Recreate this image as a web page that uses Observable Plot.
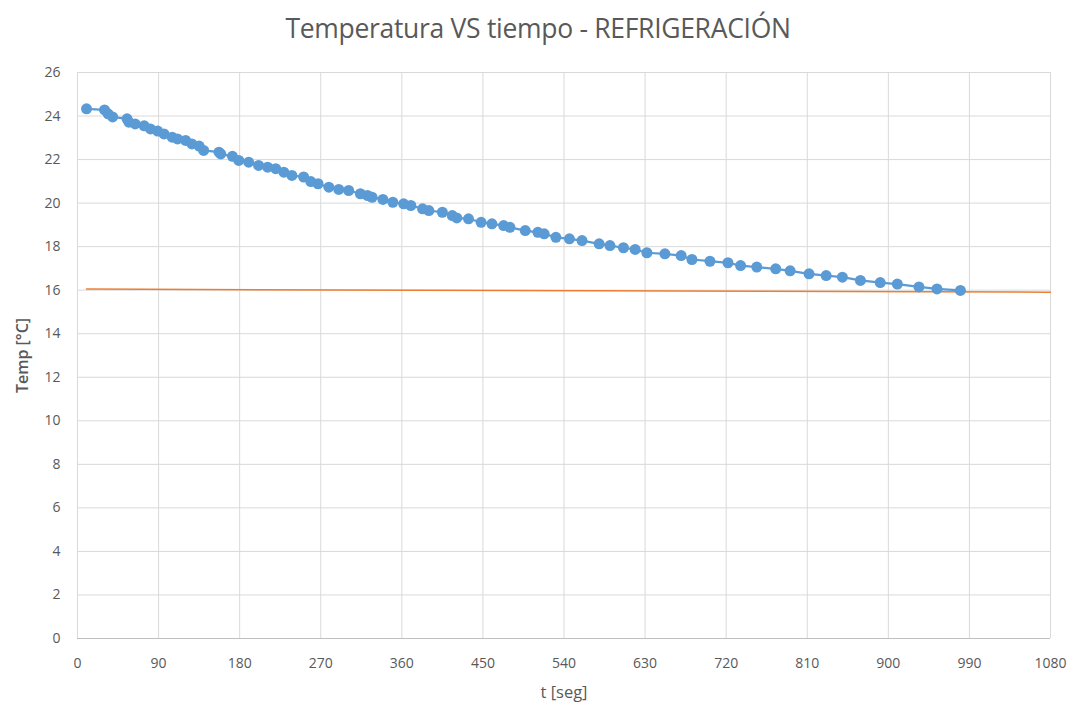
<!DOCTYPE html>
<html>
<head>
<meta charset="utf-8">
<script src="https://cdn.jsdelivr.net/npm/d3@7"></script>
<script src="https://cdn.jsdelivr.net/npm/@observablehq/plot@0.6"></script>
<style>
  body { margin: 0; background: #fff; }
  #title { height: 50px; width: 1076px; text-align: center; font-family: "Open Sans", sans-serif; font-size: 26.5px; color: #595959; line-height: 56px; letter-spacing: -0.3px; }
  svg { display: block; }
</style>
</head>
<body>
<div id="title">Temperatura VS tiempo - REFRIGERACIÓN</div>
<div id="chart"></div>
<script>
const tiempo = [10, 30, 34, 39, 55, 57, 64, 74, 81, 89, 96, 105, 111, 120, 127, 135, 140, 157, 159, 172, 179, 190, 201, 211, 220, 229, 238, 251, 259, 267, 279, 290, 301, 314, 322, 327, 339, 350, 362, 370, 383, 390, 405, 416, 421, 434, 448, 460, 473, 480, 497, 511, 518, 531, 546, 560, 579, 591, 606, 619, 632, 652, 670, 682, 702, 722, 736, 754, 775, 791, 812, 831, 849, 869, 891, 910, 934, 954, 980];
const temperatura = [24.33, 24.28, 24.10, 23.96, 23.87, 23.72, 23.64, 23.55, 23.41, 23.31, 23.18, 23.03, 22.95, 22.88, 22.72, 22.62, 22.42, 22.34, 22.26, 22.15, 21.96, 21.88, 21.73, 21.65, 21.58, 21.42, 21.27, 21.20, 20.99, 20.89, 20.73, 20.63, 20.58, 20.43, 20.35, 20.27, 20.17, 20.04, 19.97, 19.89, 19.74, 19.66, 19.58, 19.43, 19.32, 19.28, 19.12, 19.05, 18.97, 18.89, 18.74, 18.66, 18.59, 18.43, 18.36, 18.28, 18.13, 18.05, 17.95, 17.87, 17.72, 17.67, 17.59, 17.41, 17.33, 17.26, 17.13, 17.06, 16.98, 16.89, 16.75, 16.67, 16.60, 16.45, 16.35, 16.28, 16.15, 16.06, 15.99];
const refTiempo = [10, 1080];
const refTemp = [16.05, 15.91];
const xTicks = [0, 90, 180, 270, 360, 450, 540, 630, 720, 810, 900, 990, 1080];
const yTicks = [0, 2, 4, 6, 8, 10, 12, 14, 16, 18, 20, 22, 24, 26];
const xLabel = "t [seg]";
const yLabel = "Temp [°C]";

const data = tiempo.map((t, i) => ({t, T: temperatura[i]}));
const ref = refTiempo.map((t, i) => ({t, T: refTemp[i]}));

const chart = Plot.plot({
  width: 1076,
  height: 659,
  marginTop: 22,
  marginBottom: 71,
  marginLeft: 77,
  marginRight: 26,
  style: {fontFamily: "'Open Sans', sans-serif", fontSize: "14px", color: "#595959", background: "#fff"},
  x: {domain: [0, 1080]},
  y: {domain: [0, 26]},
  marks: [
    Plot.gridX(xTicks, {stroke: "#d9d9d9", strokeOpacity: 1, strokeWidth: 1}),
    Plot.gridY(yTicks, {stroke: "#d9d9d9", strokeOpacity: 1, strokeWidth: 1}),
    Plot.ruleY([0], {stroke: "#bfbfbf", strokeWidth: 1}),
    Plot.axisX(xTicks, {tickSize: 0, tickPadding: 20, fill: "#595959", tickFormat: d => String(d), label: null, fontSize: 14}),
    Plot.axisY(yTicks, {tickSize: 0, tickPadding: 17, fill: "#595959", tickFormat: d => String(d), label: null, fontSize: 14}),
    Plot.text([xLabel], {frameAnchor: "bottom", textAnchor: "middle", dy: 59, fill: "#595959", fontSize: 16.5}),
    Plot.text([yLabel], {frameAnchor: "left", textAnchor: "middle", rotate: -90, dx: -55, fill: "#595959", fontSize: 16, fontWeight: 600}),
    Plot.line(ref, {x: "t", y: "T", stroke: "#ed7d31", strokeWidth: 1.5}),
    Plot.line(data, {x: "t", y: "T", stroke: "#5b9bd5", strokeWidth: 2.25}),
    Plot.dot(data, {x: "t", y: "T", r: 5.5, fill: "#5b9bd5", stroke: "none"})
  ]
});
document.getElementById("chart").appendChild(chart);
</script>
</body>
</html>
